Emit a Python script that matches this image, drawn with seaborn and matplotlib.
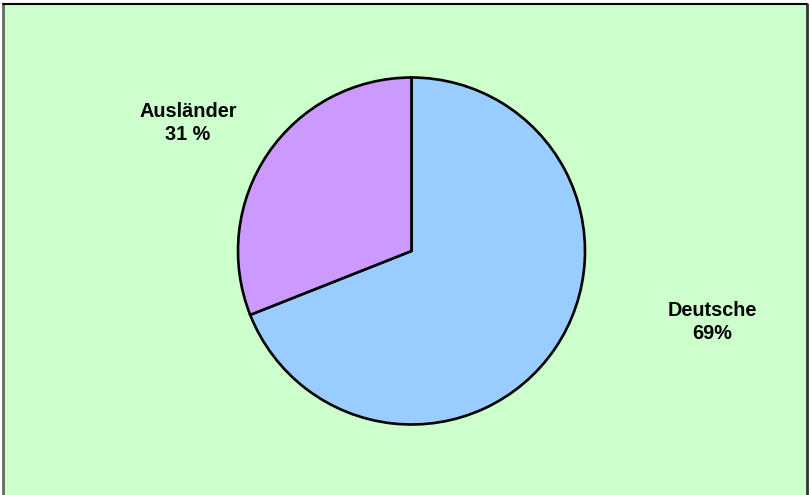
import matplotlib
matplotlib.use("Agg")
import matplotlib.pyplot as plt
import seaborn as sns
from matplotlib.patches import Rectangle

# Daten
labels = ["Deutsche", "Ausländer"]
anteile = [69, 31]
beschriftung = ["Deutsche\n69%", "Ausländer\n31 %"]
farben = ["#99CCFF", "#CC99FF"]

sns.set_style("white")
plt.rcParams["font.family"] = ["Liberation Sans", "DejaVu Sans"]

W, H = 811, 495
fig = plt.figure(figsize=(W / 100, H / 100), dpi=100)
fig.patch.set_facecolor("white")

# Hintergrund mit Rahmen
bg = fig.add_axes([0, 0, 1, 1])
bg.set_xlim(0, W)
bg.set_ylim(H, 0)
bg.axis("off")
bg.add_patch(Rectangle((3, 4), 803, 500, facecolor="#CCFFCC",
                       edgecolor="none"))
bg.plot([2.5, 2.5], [4, H], color="#666666", lw=2)
bg.plot([2.5, 806.5], [4, 4], color="black", lw=1.5)
bg.plot([806.5, 806.5], [4, H], color="#333333", lw=2)

# Kreisdiagramm
cx, cy, r = 411.5, 251, 173.5
ax = fig.add_axes([(cx - r) / W, (H - cy - r) / H, 2 * r / W, 2 * r / H])
wedges, _ = ax.pie(anteile, colors=farben, startangle=90, counterclock=False,
                   wedgeprops=dict(edgecolor="black", linewidth=1.9))
for w in wedges:
    w.set_clip_on(False)
ax.set_xlim(-1, 1)
ax.set_ylim(-1, 1)
ax.set_aspect("equal")
ax.axis("off")

# Beschriftungen
pos = [(712, 322), (188, 123)]
for txt, (x, y) in zip(beschriftung, pos):
    fig.text(x / W, 1 - y / H, txt, ha="center", va="center", color="black",
             fontsize=14.3, fontweight="bold", linespacing=1.25)

fig.savefig("out.png", dpi=100)
